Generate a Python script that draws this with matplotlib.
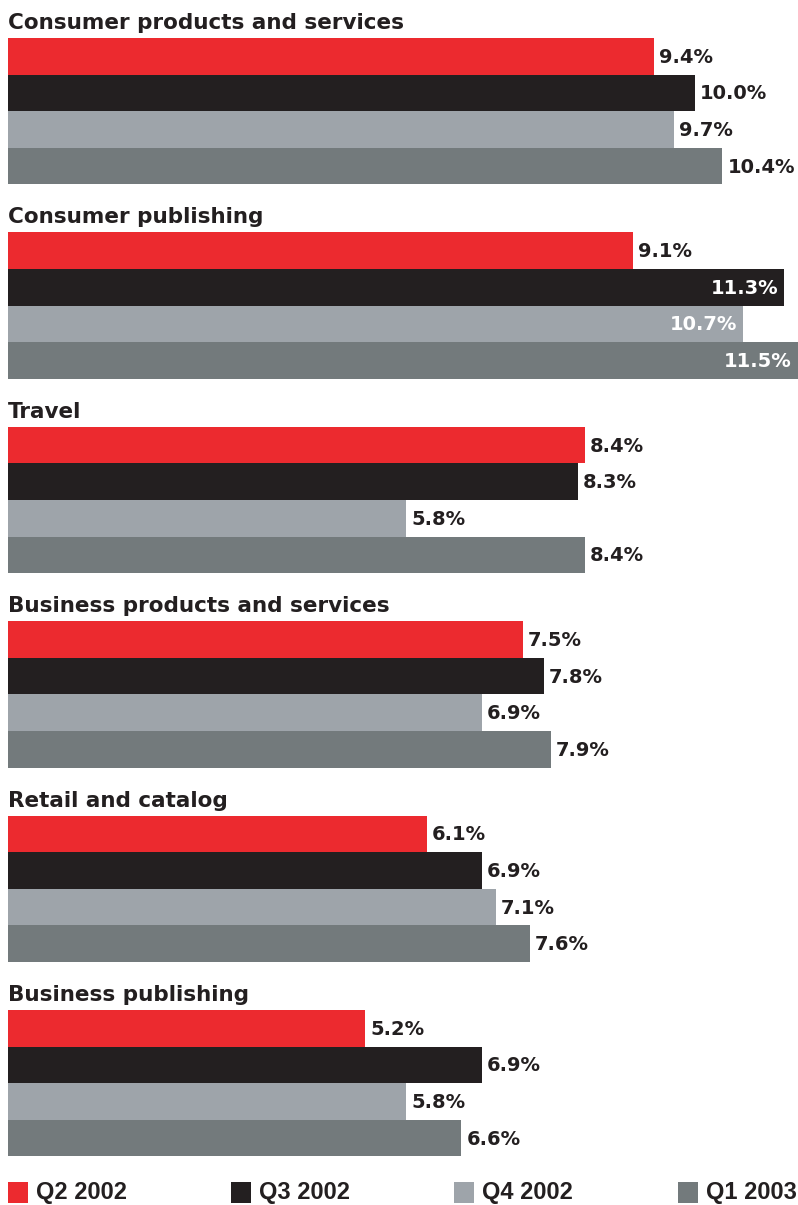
import matplotlib
matplotlib.use("Agg")
import matplotlib.pyplot as plt
from matplotlib.patches import Rectangle

categories = [
    "Consumer products and services",
    "Consumer publishing",
    "Travel",
    "Business products and services",
    "Retail and catalog",
    "Business publishing",
]
quarters = ["Q2 2002", "Q3 2002", "Q4 2002", "Q1 2003"]
q2_2002 = [9.4, 9.1, 8.4, 7.5, 6.1, 5.2]
q3_2002 = [10.0, 11.3, 8.3, 7.8, 6.9, 6.9]
q4_2002 = [9.7, 10.7, 5.8, 6.9, 7.1, 5.8]
q1_2003 = [10.4, 11.5, 8.4, 7.9, 7.6, 6.6]

colors = ["#EC2A2F", "#231F20", "#9EA4AA", "#737A7C"]
series = [q2_2002, q3_2002, q4_2002, q1_2003]

W, H = 798, 1205
fig = plt.figure(figsize=(W / 100, H / 100), dpi=100)
ax = fig.add_axes([8 / W, 0, (W - 8) / W, 1])
ax.set_xlim(0, 11.5)
ax.set_ylim(H, 0)
ax.axis("off")

first_top = 38
group_step = 194.4
bar_h = 36.6
px = 11.5 / (W - 8)  # data units per pixel

for g, cat in enumerate(categories):
    top = first_top + g * group_step
    ax.text(0, top - 9, cat, fontsize=15.5, fontweight="heavy", color="#231F20",
            va="baseline", ha="left", family=["DejaVu Sans"])
    for i, (vals, c) in enumerate(zip(series, colors)):
        yc = top + (i + 0.5) * bar_h
        v = vals[g]
        ax.barh(yc, v, height=bar_h, left=0, color=c, linewidth=0)
        label = f"{v:.1f}%"
        if v > 10.5:
            ax.text(v - 6 * px, yc + 1, label, fontsize=14, fontweight="bold",
                    color="white", va="center", ha="right")
        else:
            ax.text(v + 5 * px, yc + 1, label, fontsize=14, fontweight="bold",
                    color="#231F20", va="center", ha="left")

# legend row along the bottom
legend_x = [8, 231, 454, 678]
for x, c, q in zip(legend_x, colors, quarters):
    fig.patches.append(Rectangle((x / W, 1 - 1203 / H), 20 / W, 21 / H,
                                 transform=fig.transFigure, color=c, lw=0))
    fig.text((x + 28) / W, 1 - 1193 / H, q, fontsize=17, fontweight="bold",
             color="#231F20", va="center", ha="left",
             family=["Liberation Sans", "DejaVu Sans"])

fig.savefig("out.png", dpi=100, facecolor="white")
